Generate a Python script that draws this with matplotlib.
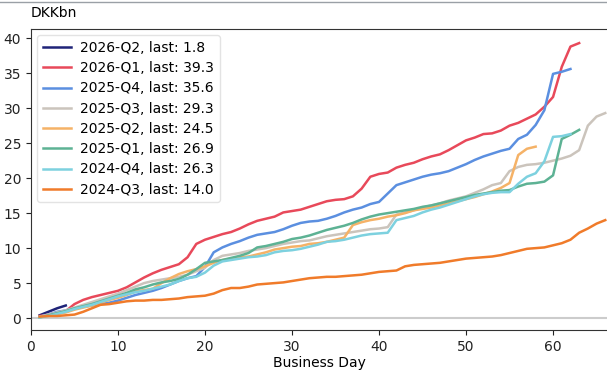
import matplotlib
matplotlib.use("Agg")
import matplotlib.pyplot as plt
from matplotlib.lines import Line2D

# cumulative DKKbn per business day, one list per quarter
q2026_2 = [0.4, 0.9, 1.4, 1.8]
q2026_1 = [0.3, 0.5, 0.7, 1.0, 2.0, 2.6, 3.0, 3.3, 3.6, 3.9, 4.4, 5.1, 5.8, 6.4, 6.9, 7.3, 7.7, 8.7, 10.6, 11.2,
           11.6, 12.0, 12.3, 12.8, 13.4, 13.9, 14.2, 14.5, 15.1, 15.3, 15.5, 15.9, 16.3, 16.7, 16.9, 17.0, 17.4, 18.5,
           20.2, 20.6, 20.8, 21.5, 21.9, 22.2, 22.7, 23.1, 23.4, 24.0, 24.7, 25.4, 25.8, 26.3, 26.4, 26.8, 27.5, 27.9,
           28.5, 29.1, 30.2, 31.6, 35.9, 38.8, 39.3]
q2025_4 = [0.2, 0.5, 0.9, 1.1, 1.4, 1.6, 1.8, 2.0, 2.2, 2.5, 2.9, 3.3, 3.6, 3.9, 4.3, 4.8, 5.3, 5.7, 6.0, 7.3,
           9.4, 10.1, 10.6, 11.0, 11.5, 11.9, 12.1, 12.3, 12.7, 13.2, 13.6, 13.8, 13.9, 14.2, 14.6, 15.1, 15.5, 15.8,
           16.3, 16.6, 17.8, 19.0, 19.4, 19.8, 20.2, 20.5, 20.7, 21.0, 21.5, 22.0, 22.6, 23.1, 23.5, 23.9, 24.2, 25.6,
           26.2, 27.6, 29.7, 34.9, 35.2, 35.6]
q2025_3 = [0.2, 0.5, 0.8, 1.1, 1.5, 1.9, 2.3, 2.7, 3.1, 3.5, 4.0, 4.5, 5.0, 5.3, 5.5, 5.7, 5.9, 6.2, 6.7, 7.2,
           8.3, 8.9, 9.1, 9.3, 9.6, 9.8, 10.0, 10.3, 10.6, 10.8, 11.0, 11.1, 11.4, 11.7, 11.9, 12.1, 12.3, 12.5,
           12.7, 12.8, 13.0, 14.8, 15.1, 15.4, 15.8, 16.1, 16.4, 16.8, 17.1, 17.4, 17.9, 18.4, 19.0, 19.3, 21.0, 21.6,
           21.9, 22.0, 22.2, 22.5, 22.8, 23.2, 24.0, 27.5, 28.8, 29.3]
q2025_2 = [0.1, 0.3, 0.6, 0.8, 1.2, 1.5, 1.8, 2.2, 2.6, 2.9, 3.3, 3.8, 4.0, 4.2, 5.0, 5.7, 6.3, 6.7, 7.0, 7.4,
           7.9, 8.3, 8.5, 8.7, 8.8, 9.1, 9.4, 9.8, 10.0, 10.2, 10.3, 10.6, 10.7, 10.9, 11.2, 11.5, 13.3, 13.7,
           14.0, 14.2, 14.5, 14.7, 15.0, 15.4, 15.6, 15.8, 16.1, 16.4, 16.7, 17.0, 17.3, 17.7, 18.1, 18.6, 19.3, 23.3,
           24.2, 24.5]
q2025_1 = [0.1, 0.4, 0.7, 1.0, 1.4, 1.7, 2.0, 2.4, 2.8, 3.2, 3.6, 4.1, 4.4, 4.8, 5.1, 5.3, 5.6, 6.2, 7.0, 7.9,
           8.1, 8.3, 8.6, 8.9, 9.3, 10.1, 10.3, 10.6, 10.9, 11.3, 11.5, 11.8, 12.2, 12.6, 12.9, 13.2, 13.6, 14.1,
           14.5, 14.8, 15.0, 15.2, 15.4, 15.6, 15.9, 16.1, 16.4, 16.7, 17.0, 17.3, 17.6, 17.8, 18.0, 18.2, 18.3, 18.8,
           19.2, 19.3, 19.5, 20.4, 25.6, 26.2, 26.9]
q2024_4 = [0.1, 0.3, 0.6, 0.9, 1.3, 1.6, 1.9, 2.3, 2.7, 3.1, 3.4, 3.7, 3.9, 4.2, 4.5, 4.8, 5.3, 5.7, 5.9, 6.5,
           7.5, 8.1, 8.3, 8.5, 8.7, 8.8, 9.0, 9.4, 9.6, 9.7, 9.9, 10.2, 10.5, 10.9, 11.0, 11.2, 11.5, 11.8,
           12.0, 12.1, 12.2, 14.0, 14.3, 14.6, 15.1, 15.5, 15.8, 16.2, 16.6, 17.0, 17.4, 17.7, 17.9, 18.0, 18.0, 19.2,
           20.2, 20.7, 22.4, 25.9, 26.0, 26.3]
q2024_3 = [0.2, 0.3, 0.3, 0.4, 0.5, 0.9, 1.4, 1.9, 2.0, 2.2, 2.4, 2.5, 2.5, 2.6, 2.6, 2.7, 2.8, 3.0, 3.1, 3.2,
           3.5, 4.0, 4.3, 4.3, 4.5, 4.8, 4.9, 5.0, 5.1, 5.3, 5.5, 5.7, 5.8, 5.9, 5.9, 6.0, 6.1, 6.2, 6.4, 6.6,
           6.7, 6.8, 7.4, 7.6, 7.7, 7.8, 7.9, 8.1, 8.3, 8.5, 8.6, 8.7, 8.8, 9.0, 9.3, 9.6, 9.9, 10.0, 10.1, 10.4,
           10.7, 11.2, 12.2, 12.8, 13.5, 14.0]

labels = ["2026-Q2", "2026-Q1", "2025-Q4", "2025-Q3", "2025-Q2", "2025-Q1", "2024-Q4", "2024-Q3"]
series = [q2026_2, q2026_1, q2025_4, q2025_3, q2025_2, q2025_1, q2024_4, q2024_3]
colors = ["#1f2378", "#e8495a", "#5b8fe0", "#cbc4bc", "#f5b267", "#5db294", "#7dd1df", "#f07b2a"]

fig = plt.figure(figsize=(6.07, 3.73), dpi=100)
ax = fig.add_axes([0.051, 0.1153, 0.949, 0.8067])

ax.axhline(0, color="#cccccc", lw=1.5, zorder=1)
for lab, vals, c in zip(labels, series, colors):
    days = range(1, len(vals) + 1)
    ax.plot(days, vals, color=c, lw=1.8, label=f"{lab}, last: {vals[-1]:.1f}", zorder=2)

ax.set_xlim(0, 66.2)
ax.set_ylim(-1.7, 41.3)
ax.set_xticks([0, 10, 20, 30, 40, 50, 60])
ax.set_yticks([0, 5, 10, 15, 20, 25, 30, 35, 40])
ax.spines["right"].set_visible(False)
for s in ["left", "bottom", "top"]:
    ax.spines[s].set_color("#333333")
ax.tick_params(labelsize=10, colors="#222222")
ax.set_xlabel("Business Day", fontsize=10, labelpad=2)
ax.text(0.0, 1.03, "DKKbn", transform=ax.transAxes, fontsize=10, ha="left", va="bottom")

ax.legend(loc="upper left", fontsize=10, frameon=True, handlelength=2.0,
          labelspacing=0.45, borderaxespad=0.45, handletextpad=0.7, edgecolor="#dddddd")

# thin border left over from the page above
fig.add_artist(Line2D([0, 1], [0.994, 0.994], transform=fig.transFigure, color="#9aa0a6", lw=1))

fig.savefig("out.png", dpi=100)
